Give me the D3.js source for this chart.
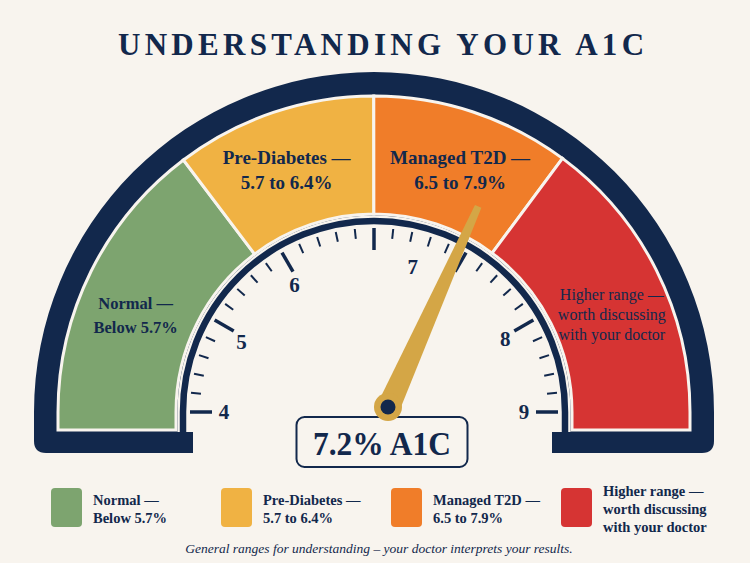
<!DOCTYPE html>
<html><head><meta charset="utf-8">
<script src="https://cdn.jsdelivr.net/npm/d3@7"></script>
<style>html,body{margin:0;padding:0;background:#F8F4EE;} svg{display:block;}</style>
</head><body>
<svg id="chart" width="750" height="563"></svg>
<script>
// ---------------- data ----------------
const title = "UNDERSTANDING YOUR A1C";
const categories = ["Normal", "Pre-Diabetes", "Managed T2D", "Higher range"];
const bandLabels = [
  ["Normal —", "Below 5.7%"],
  ["Pre-Diabetes —", "5.7 to 6.4%"],
  ["Managed T2D —", "6.5 to 7.9%"],
  ["Higher range —", "worth discussing", "with your doctor"]
];
const bandEdges = [4, 5.83, 6.68, 7.47, 9];          // gauge value where each band starts / ends
const bandColors = ["#7DA46F", "#F0B243", "#F07D29", "#D63433"];
const dialValues = [4, 5, 6, 7, 8, 9];               // printed dial numbers
const dialAngles = [-90, -62, -32, 15, 61, 90];      // their angular places on the printed dial
const tickSteps = 30;                                 // minor intervals across the dial
const majorEvery = 5;
const a1cValue = 7.2;
const a1cUnit = "A1C";
const caption = "General ranges for understanding – your doctor interprets your results.";

// ---------------- layout ----------------
const W = 750, H = 563, cx = 374, cy = 412;
const navy = "#12284C", bg = "#F8F4EE", gold = "#D4A646";
const R = {outer: 340, bandOut: 316, bandIn: 198, face: 196.5, rim: 191, tickOut: 184, label: 150, bandLabel: 257};
const stripTop = 432, stripBottom = 453, bandBottom = 430, stripInnerL = 181, stripInnerR = 178;
const serif = "'Liberation Serif','DejaVu Serif',serif";

const svg = d3.select("#chart");
svg.append("rect").attr("width", W).attr("height", H).attr("fill", bg);

const angle = d3.scaleLinear().domain(dialValues).range(dialAngles); // degrees from vertical
const toRad = deg => (deg - 90) * Math.PI / 180;                      // canvas angle
const tickAngle = d3.scaleLinear().domain([0, tickSteps]).range([-90, 90]);

// title
const ls = 4.3;
svg.append("text").attr("x", 381 + ls / 2).attr("y", 55)
  .attr("text-anchor", "middle").attr("font-family", serif).attr("font-weight", "bold")
  .attr("font-size", 31).attr("letter-spacing", ls).attr("fill", navy).text(title);

// dark outer frame
{
  const p = d3.path(), c = 12;
  p.moveTo(cx - stripInnerL, stripBottom);
  p.lineTo(cx - R.outer + c, stripBottom);
  p.quadraticCurveTo(cx - R.outer, stripBottom, cx - R.outer, stripBottom - c);
  p.lineTo(cx - R.outer, cy);
  p.arc(cx, cy, R.outer, -Math.PI, 0, false);
  p.lineTo(cx + R.outer, stripBottom - c);
  p.quadraticCurveTo(cx + R.outer, stripBottom, cx + R.outer - c, stripBottom);
  p.lineTo(cx + stripInnerR, stripBottom);
  p.lineTo(cx + stripInnerR, stripTop);
  p.lineTo(cx - stripInnerL, stripTop);
  p.closePath();
  svg.append("path").attr("d", p.toString()).attr("fill", navy);
}

// colored bands
const bands = categories.map((c, i) => ({cat: c, i, from: bandEdges[i], to: bandEdges[i + 1], color: bandColors[i], lines: bandLabels[i]}));
function bandPath(b) {
  const a0 = toRad(angle(b.from)), a1 = toRad(angle(b.to));
  const first = b.i === 0, last = b.i === bands.length - 1;
  const p = d3.path();
  if (first) { p.moveTo(cx - R.bandOut, bandBottom); p.lineTo(cx - R.bandOut, cy); }
  else p.moveTo(cx + R.bandOut * Math.cos(a0), cy + R.bandOut * Math.sin(a0));
  p.arc(cx, cy, R.bandOut, a0, a1, false);
  if (last) { p.lineTo(cx + R.bandOut, bandBottom); p.lineTo(cx + R.bandIn, bandBottom); p.lineTo(cx + R.bandIn, cy); }
  else p.lineTo(cx + R.bandIn * Math.cos(a1), cy + R.bandIn * Math.sin(a1));
  p.arc(cx, cy, R.bandIn, a1, a0, true);
  if (first) p.lineTo(cx - R.bandIn, bandBottom);
  p.closePath();
  return p.toString();
}
svg.append("g").selectAll("path").data(bands).join("path")
  .attr("d", bandPath).attr("fill", d => d.color)
  .attr("stroke", bg).attr("stroke-width", 3).attr("stroke-linejoin", "miter");

// band labels
const bandStyle = [
  {size: 16.5, weight: "bold", lh: 24},
  {size: 19, weight: "bold", lh: 25},
  {size: 19, weight: "bold", lh: 25},
  {size: 16, weight: "normal", lh: 20}
];
bands.forEach(b => {
  const mid = (angle(b.from) + angle(b.to)) / 2 * 1.07;
  const a = toRad(mid), st = bandStyle[b.i];
  const x = cx + R.bandLabel * Math.cos(a), y = cy + R.bandLabel * Math.sin(a);
  const t = svg.append("text").attr("text-anchor", "middle").attr("font-family", serif)
    .attr("font-size", st.size).attr("font-weight", st.weight).attr("fill", navy);
  b.lines.forEach((ln, k) => {
    t.append("tspan").attr("x", x)
      .attr("y", y + (k - (b.lines.length - 1) / 2) * st.lh)
      .attr("dominant-baseline", "central").text(ln);
  });
});

// dial face + rim
{
  const p = d3.path();
  p.moveTo(cx - R.face, stripTop); p.lineTo(cx - R.face, cy);
  p.arc(cx, cy, R.face, -Math.PI, 0, false);
  p.lineTo(cx + R.face, stripTop); p.closePath();
  svg.append("path").attr("d", p.toString()).attr("fill", bg);
  const q = d3.path();
  q.moveTo(cx - R.rim, stripTop); q.lineTo(cx - R.rim, cy);
  q.arc(cx, cy, R.rim, -Math.PI, 0, false);
  q.lineTo(cx + R.rim, stripTop);
  svg.append("path").attr("d", q.toString()).attr("fill", "none").attr("stroke", navy).attr("stroke-width", 6.5);
}

// ticks
svg.append("g").selectAll("line").data(d3.range(tickSteps + 1)).join("line")
  .each(function (i) {
    const major = i % majorEvery === 0, a = toRad(tickAngle(i));
    const r0 = R.tickOut, r1 = R.tickOut - (major ? 22 : 10);
    d3.select(this)
      .attr("x1", cx + r0 * Math.cos(a)).attr("y1", cy + r0 * Math.sin(a))
      .attr("x2", cx + r1 * Math.cos(a)).attr("y2", cy + r1 * Math.sin(a))
      .attr("stroke", navy).attr("stroke-width", major ? 3.5 : 2);
  });

// dial numbers
svg.append("g").selectAll("text").data(dialValues).join("text")
  .attr("x", d => cx + R.label * Math.cos(toRad(angle(d))))
  .attr("y", d => cy + R.label * Math.sin(toRad(angle(d))))
  .attr("text-anchor", "middle").attr("dominant-baseline", "central")
  .attr("font-family", serif).attr("font-weight", "bold").attr("font-size", 21)
  .attr("fill", navy).text(d => d);

// value box
const boxW = 171, boxH = 50, boxX = cx + 8 - boxW / 2, boxY = 417;
svg.append("rect").attr("x", boxX).attr("y", boxY).attr("width", boxW).attr("height", boxH)
  .attr("rx", 8).attr("fill", bg).attr("stroke", navy).attr("stroke-width", 2);
svg.append("text").attr("x", boxX + boxW / 2).attr("y", boxY + boxH / 2 + 1)
  .attr("text-anchor", "middle").attr("dominant-baseline", "central")
  .attr("font-family", serif).attr("font-weight", "bold").attr("font-size", 34)
  .attr("textLength", 138).attr("lengthAdjust", "spacingAndGlyphs")
  .attr("fill", navy).text(`${a1cValue}% ${a1cUnit}`);

// needle
const pivot = {x: cx + 14, y: cy - 5};
const needle = svg.append("g").attr("transform", `translate(${pivot.x},${pivot.y}) rotate(${angle(a1cValue)})`);
needle.append("path").attr("d", "M-11,2 L-3.5,-220 L3.5,-220 L12,-2 L8,8 Z").attr("fill", gold);
svg.append("circle").attr("cx", pivot.x).attr("cy", pivot.y).attr("r", 14).attr("fill", gold);
svg.append("circle").attr("cx", pivot.x).attr("cy", pivot.y).attr("r", 7.5).attr("fill", navy);

// legend
const lx = d3.scalePoint().domain(categories).range([51, 561]);
const legend = svg.append("g").selectAll("g").data(bands).join("g")
  .attr("transform", d => `translate(${lx(d.cat)},0)`);
legend.append("rect").attr("x", 0).attr("y", 488).attr("width", 31).attr("height", 39).attr("rx", 4)
  .attr("fill", d => d.color);
legend.each(function (d) {
  const t = d3.select(this).append("text").attr("font-family", serif).attr("font-size", 14.5)
    .attr("font-weight", "bold").attr("fill", navy);
  d.lines.forEach((ln, k) => {
    t.append("tspan").attr("x", 42).attr("y", 509 + (k - (d.lines.length - 1) / 2) * 18)
      .attr("dominant-baseline", "central").text(ln);
  });
});

// caption
svg.append("text").attr("x", 379).attr("y", 548).attr("text-anchor", "middle")
  .attr("dominant-baseline", "central").attr("font-family", serif).attr("font-style", "italic")
  .attr("font-size", 13.5).attr("fill", navy).text(caption);
</script>
</body></html>
